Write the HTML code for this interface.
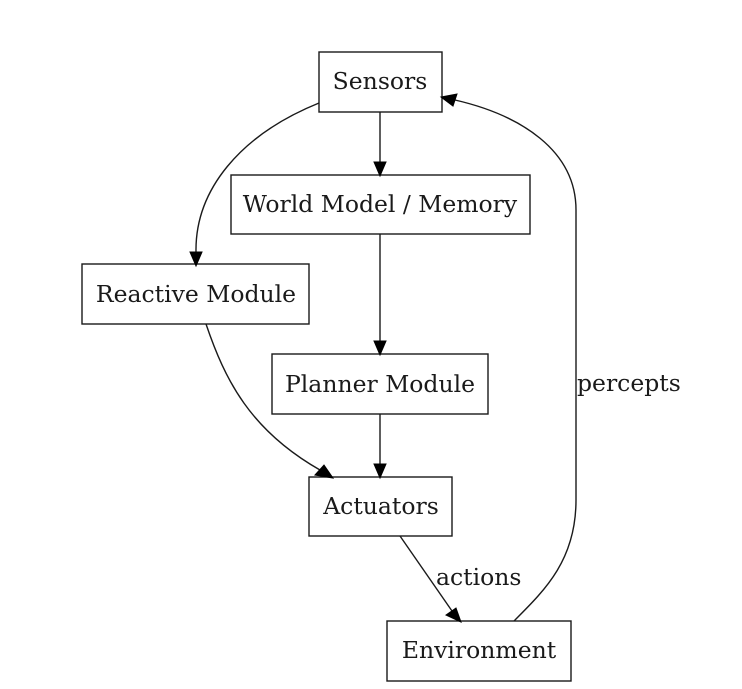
<!DOCTYPE html>
<html><head><meta charset="utf-8"><style>
html,body{margin:0;padding:0;background:#fff;}
svg{display:block;}
text{font-family:"DejaVu Serif","Liberation Serif",serif;font-size:23.5px;fill:#1a1a1a;}
</style></head><body>
<svg width="742" height="689" viewBox="0 0 742 689" xmlns="http://www.w3.org/2000/svg">
<g fill="none" stroke="#1a1a1a" stroke-width="1.4">
<rect x="319" y="52" width="123" height="60"/>
<rect x="231" y="175" width="299" height="59"/>
<rect x="82" y="264" width="227" height="60"/>
<rect x="272" y="354" width="216" height="60"/>
<rect x="309" y="477" width="143" height="59"/>
<rect x="387" y="621" width="184" height="60"/>
<path d="M380 112 L380 162"/>
<path d="M380 234 L380 341"/>
<path d="M380 414 L380 464"/>
<path d="M319 103 C240 135 195 190 196 252"/>
<path d="M206 324 C225 380 250 430 320 470"/>
<path d="M400 536 L452 611"/>
<path d="M514 621 C545 590 576 560 576 500 L576 210 C576 150 520 115 455 100"/>
</g>
<g fill="#000" stroke="#000" stroke-width="1">
<polygon points="374,162 386,162 380,176"/>
<polygon points="374,341 386,341 380,355"/>
<polygon points="374,464 386,464 380,478"/>
<polygon points="190,252 202,252 196,266"/>
<polygon points="315,475 324,465 333,478"/>
<polygon points="446,615 456,608 461,622"/>
<polygon points="457,94 453,106 441,97"/>
</g>
<g text-anchor="middle">
<text x="380" y="89">Sensors</text>
<text x="380" y="212">World Model / Memory</text>
<text x="196" y="302">Reactive Module</text>
<text x="380" y="392">Planner Module</text>
<text x="381" y="514">Actuators</text>
<text x="479" y="658">Environment</text>
</g>
<text x="577" y="391">percepts</text>
<text x="436" y="585">actions</text>
</svg>
</body></html>
